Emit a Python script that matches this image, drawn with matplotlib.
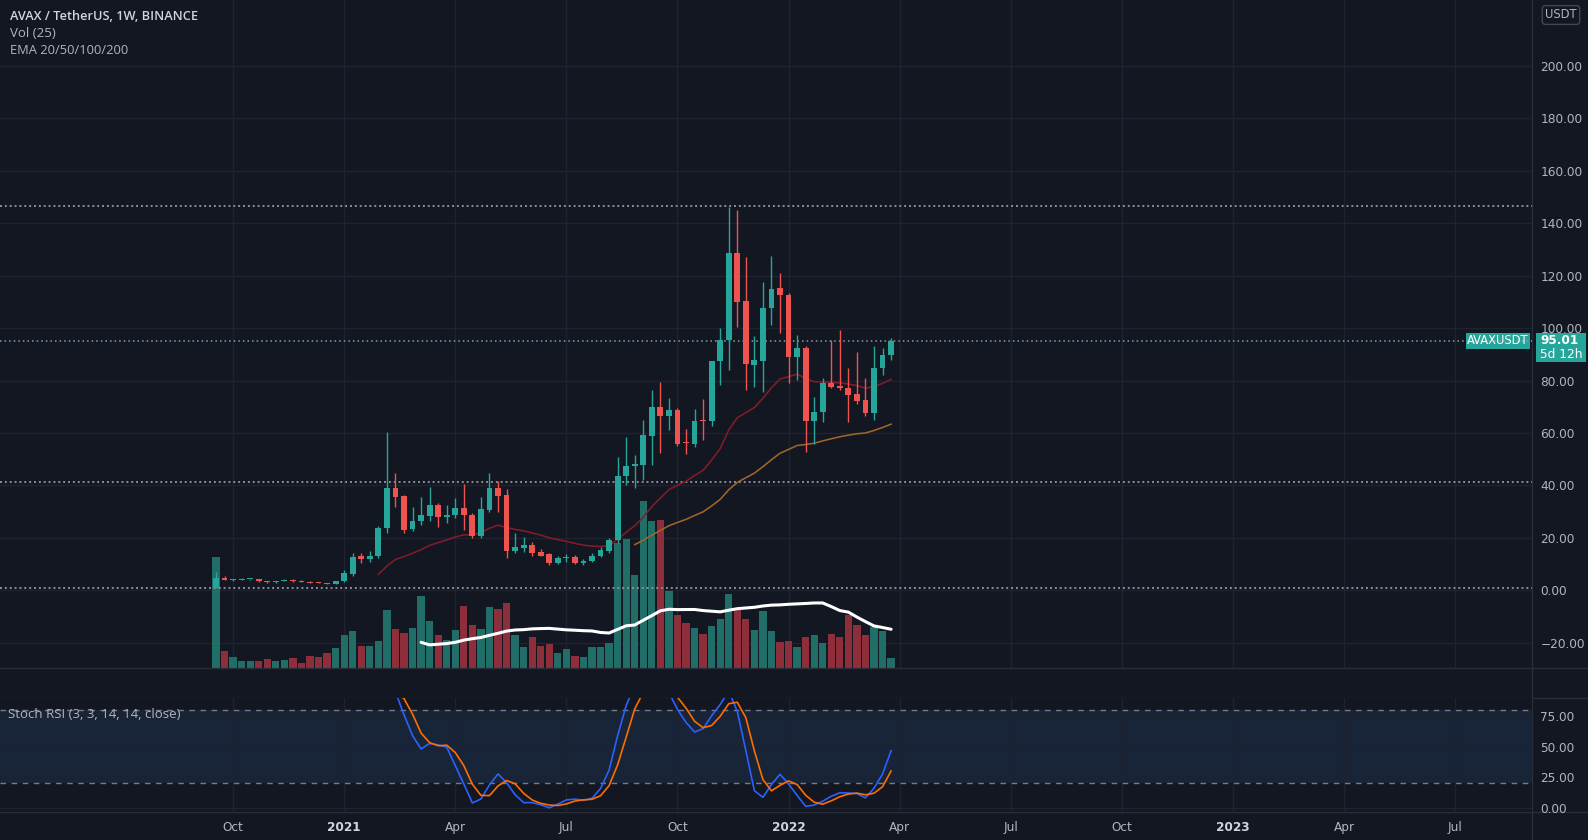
import numpy as np
import pandas as pd
import matplotlib
matplotlib.use("Agg")
import matplotlib.pyplot as plt
from matplotlib.lines import Line2D
from matplotlib.patches import Rectangle

# ── AVAX / USDT weekly candles, first bar = week of 2020-09-21 ──────────
start_week = "2020-09-21"
opens = [0.85, 4.7, 4.0, 4.1, 4.2, 4.3, 3.4, 3.1, 3.5, 4.1,
         3.5, 3.3, 3.0, 2.9, 2.6, 3.4, 6.3, 13.0, 11.8, 13.0,
         23.6, 39.2, 35.9, 23.3, 26.3, 28.5, 32.6, 28.1, 28.7, 31.3,
         28.9, 20.9, 30.7, 38.9, 36.3, 15.1, 16.0, 17.4, 14.8, 13.7,
         10.3, 12.4, 12.6, 10.3, 11.2, 13.1, 14.9, 19.1, 43.6, 47.4,
         47.9, 58.8, 69.8, 66.5, 68.8, 56.6, 55.7, 65.0, 64.6, 87.3,
         95.4, 128.5, 110.3, 86.0, 87.6, 107.5, 115.2, 112.8, 89.1, 92.3,
         64.7, 67.9, 78.9, 77.9, 77.0, 74.7, 72.5, 67.7, 84.6, 89.7]
highs = [7.1, 5.3, 4.5, 4.8, 4.5, 4.4, 3.6, 3.7, 4.3, 4.5,
         3.8, 3.5, 3.2, 3.0, 3.5, 7.6, 14.4, 14.4, 15.2, 24.5,
         60.3, 44.6, 36.5, 31.7, 35.7, 39.5, 33.5, 32.6, 35.2, 40.6,
         29.5, 35.7, 44.6, 41.7, 38.5, 21.8, 20.5, 18.3, 15.8, 14.3,
         13.0, 14.0, 13.3, 11.9, 14.2, 16.7, 20.0, 51.0, 58.6, 51.6,
         64.9, 76.4, 79.6, 73.2, 69.5, 61.5, 69.0, 72.8, 87.6, 99.9,
         146.3, 145.0, 127.2, 96.8, 117.7, 127.5, 121.1, 113.5, 97.4, 93.0,
         73.9, 80.8, 95.4, 99.3, 84.9, 90.8, 80.8, 93.0, 92.6, 96.3]
lows = [0.85, 3.9, 3.7, 3.8, 3.9, 3.2, 3.0, 3.0, 3.4, 3.3,
        3.1, 2.8, 2.7, 2.4, 2.5, 3.1, 5.6, 10.3, 11.0, 12.3,
        22.0, 31.9, 21.8, 22.5, 24.8, 26.5, 24.3, 25.5, 27.5, 22.9,
        19.9, 20.0, 29.8, 30.0, 12.2, 14.3, 14.5, 13.0, 13.0, 9.6,
        9.9, 10.9, 10.2, 9.6, 10.8, 12.6, 14.2, 18.2, 40.1, 38.9,
        42.0, 47.8, 52.2, 61.2, 55.2, 52.0, 54.5, 57.4, 62.5, 78.3,
        84.0, 100.5, 76.4, 77.7, 75.8, 101.2, 98.3, 79.2, 80.2, 52.9,
        55.8, 64.3, 77.0, 76.4, 64.3, 71.0, 66.5, 65.0, 82.1, 88.0]
closes = [4.7, 4.0, 4.1, 4.3, 4.3, 3.4, 3.1, 3.5, 4.1, 3.5,
          3.3, 3.0, 2.9, 2.6, 3.4, 6.5, 12.9, 11.8, 13.2, 23.9,
          39.2, 35.7, 23.0, 26.5, 28.7, 32.6, 28.1, 28.8, 31.3, 28.7,
          20.9, 30.9, 38.9, 36.1, 15.1, 16.7, 17.4, 14.4, 13.2, 10.3,
          12.5, 12.7, 10.4, 11.2, 13.1, 15.3, 19.3, 43.6, 47.4, 48.1,
          59.2, 69.8, 66.5, 68.8, 55.9, 56.0, 64.6, 64.6, 87.3, 95.4,
          128.5, 110.0, 86.4, 87.8, 107.5, 114.8, 112.8, 89.1, 92.3, 64.7,
          67.9, 78.9, 77.7, 77.3, 74.4, 72.3, 67.5, 84.6, 89.7, 95.01]
# weekly volume, millions AVAX
volumes = [11.13, 1.66, 1.13, 0.73, 0.66, 0.73, 0.90, 0.73, 0.83, 0.96,
           0.53, 1.23, 1.06, 1.46, 1.96, 3.33, 3.73, 2.16, 2.23, 2.73,
           5.83, 3.86, 3.46, 3.96, 7.23, 4.73, 3.30, 2.80, 3.80, 6.20,
           4.30, 3.90, 6.06, 5.90, 6.50, 3.30, 2.06, 3.10, 2.16, 2.40,
           1.50, 1.94, 1.17, 1.07, 2.07, 2.07, 2.50, 12.50, 12.94, 9.27,
           16.67, 14.74, 14.84, 7.67, 5.34, 4.50, 4.00, 3.40, 4.24, 4.90,
           7.44, 5.84, 4.90, 3.84, 5.67, 3.67, 2.57, 2.67, 2.07, 3.07,
           3.34, 2.50, 3.40, 3.07, 5.34, 4.34, 3.34, 4.07, 3.67, 1.00]

level_lines = [146.5, 41.3, 0.8]      # drawn horizontal levels
last_price = 95.01
countdown = "5d 12h"
price_ticks = [-20, 0, 20, 40, 60, 80, 100, 120, 140, 160, 180, 200]
stoch_ticks = [0, 25, 50, 75]
month_dates = ["2020-10-05", "2021-01-04", "2021-04-05", "2021-07-05",
               "2021-10-04", "2022-01-03", "2022-04-04", "2022-07-04",
               "2022-10-03", "2023-01-02", "2023-04-03", "2023-07-03"]
month_labels = ["Oct", "2021", "Apr", "Jul", "Oct", "2022",
                "Apr", "Jul", "Oct", "2023", "Apr", "Jul"]

# ── colours ────────────────────────────────────────────────────────────
BG = "#131722"
GRID = "#1f2330"
SEP = "#2a2e39"
TXT = "#b2b5be"
UP, DN = "#26a69a", "#ef5350"
UP_V, DN_V = "#216e69", "#8d2e3a"

# ── indicators (same definitions TradingView uses) ─────────────────────
o = np.array(opens); h = np.array(highs); l = np.array(lows)
c = np.array(closes); v = np.array(volumes)
n = len(c)
x = np.arange(n)


def ema(src, length):
    out = np.full(len(src), np.nan)
    out[length - 1] = src[:length].mean()
    a = 2.0 / (length + 1)
    for i in range(length, len(src)):
        out[i] = a * src[i] + (1 - a) * out[i - 1]
    return out


def rma(src, length):
    out = np.full(len(src), np.nan)
    out[length] = np.mean(src[1:length + 1])
    for i in range(length + 1, len(src)):
        out[i] = (out[i - 1] * (length - 1) + src[i]) / length
    return out


ema20 = ema(c, 20)
ema50 = ema(c, 50)
vol_ma = pd.Series(v).rolling(25).mean().values

chg = np.diff(c, prepend=np.nan)
up = rma(np.where(chg > 0, chg, 0.0), 14)
dn = rma(np.where(chg < 0, -chg, 0.0), 14)
with np.errstate(divide="ignore", invalid="ignore"):
    rsi = np.where(dn == 0, 100.0, 100 - 100 / (1 + up / dn))
rsi[np.isnan(up)] = np.nan
rs = pd.Series(rsi)
lo = rs.rolling(14, min_periods=1).min()
hi = rs.rolling(14, min_periods=1).max()
st = 100 * (rs - lo) / (hi - lo).replace(0, np.nan)
k_line = st.rolling(3).mean()
d_line = k_line.rolling(3).mean()

t0 = pd.Timestamp(start_week)
month_x = [(pd.Timestamp(d) - t0).days / 7 for d in month_dates]

# ── figure layout (pixel based) ────────────────────────────────────────
W, H = 1588, 840
fig = plt.figure(figsize=(W / 100, H / 100), dpi=100)
fig.patch.set_facecolor(BG)


def rect(x0, y0, x1, y1):
    return [x0 / W, 1 - y1 / H, (x1 - x0) / W, (y1 - y0) / H]


PLOT_R = 1532
MAIN = rect(0, 0, PLOT_R, 668)
STOCH = rect(0, 697.7, PLOT_R, 811.7)
XLIM = (-25.28, 154.0)
PLIM = (-29.6, 225.1)

ax_g = fig.add_axes(MAIN, zorder=0)
ax_v = fig.add_axes(MAIN, zorder=1, sharex=ax_g)
ax = fig.add_axes(MAIN, zorder=2, sharex=ax_g)
ax_s = fig.add_axes(STOCH, zorder=2, sharex=ax_g)

for a in (ax_g, ax_v, ax, ax_s):
    for sp in a.spines.values():
        sp.set_visible(False)
ax_g.set_facecolor(BG)
ax_v.patch.set_visible(False)
ax.patch.set_visible(False)
ax_s.set_facecolor(BG)

# grid layer
ax_g.set_xlim(*XLIM)
ax_g.set_ylim(*PLIM)
ax_g.set_yticks(price_ticks)
ax_g.set_xticks(month_x)
ax_g.grid(True, color=GRID, lw=1)
ax_g.tick_params(length=0, labelleft=False, labelbottom=False)

# volume layer
ax_v.bar(x, v, width=0.85, color=[UP_V if cc >= oo else DN_V for oo, cc in zip(o, c)],
         linewidth=0)
ax_v.plot(x, vol_ma, color="white", lw=2.2, solid_capstyle="round")
ax_v.set_ylim(0, 66.8)
ax_v.tick_params(length=0, labelleft=False, labelbottom=False)

# price layer
ax.set_ylim(*PLIM)
for lv in level_lines:
    ax.axhline(lv, color="#8c8f99", lw=1.4, ls=(0, (1, 1.5)), zorder=1)
ax.axhline(last_price, color="#7fa3ad", lw=1.1, ls=(0, (1, 2)), zorder=1)
ax.plot(x, ema20, color="#821c2a", lw=1.15, zorder=2)
ax.plot(x, ema50, color="#a0652a", lw=1.15, zorder=2)

cols = [UP if cc >= oo else DN for oo, cc in zip(o, c)]
ax.vlines(x, l, h, colors=cols, lw=1, zorder=3)
body_lo = np.minimum(o, c)
body_h = np.maximum(np.abs(c - o), 0.35)
ax.bar(x, body_h, bottom=body_lo, width=0.68, color=cols, linewidth=0, zorder=4)

ax.yaxis.tick_right()
ax.set_yticks(price_ticks)
ax.set_yticklabels([f"{t:.2f}".replace("-", "\u2212") for t in price_ticks])
ax.tick_params(axis="y", length=0, pad=6, labelcolor=TXT, labelsize=8.7)
ax.tick_params(axis="x", length=0, labelbottom=False)

# stoch rsi pane
ax_s.set_ylim(-3.2, 90.1)
ax_s.axhspan(20, 80, color="#182437", zorder=0, lw=0)
ax_s.set_yticks(stoch_ticks)
ax_s.set_xticks(month_x)
ax_s.grid(True, color=GRID, lw=1, zorder=0)
ax_s.set_axisbelow(True)
for lv in (80, 20):
    ax_s.axhline(lv, color="#787b86", lw=1, ls=(0, (4, 4)), zorder=1)
ax_s.plot(x, k_line, color="#2962ff", lw=1.2, zorder=3)
ax_s.plot(x, d_line, color="#ff6d00", lw=1.2, zorder=3)
ax_s.yaxis.tick_right()
ax_s.set_yticklabels([f"{t:.2f}" for t in stoch_ticks])
ax_s.tick_params(axis="y", length=0, pad=6, labelcolor=TXT, labelsize=8.7)
ax_s.set_xticklabels(month_labels)
ax_s.tick_params(axis="x", length=0, pad=7, labelcolor=TXT, labelsize=8.7)
for lab in ax_s.get_xticklabels():
    if lab.get_text().isdigit():
        lab.set_fontweight("bold")
        lab.set_color("#d1d4dc")
ax_s.set_xlim(*XLIM)

# pane borders
for y in (668, 697.7, 811.7):
    fig.add_artist(Line2D([0, 1], [1 - y / H] * 2, color=SEP, lw=1))
fig.add_artist(Line2D([PLOT_R / W] * 2, [0, 1], color=SEP, lw=1))

# legends
fig.text(10 / W, 1 - 16 / H, "AVAX / TetherUS, 1W, BINANCE", color="#d1d4dc",
         fontsize=9.2, fontweight="semibold", family="Open Sans", va="center")
fig.text(10 / W, 1 - 33.5 / H, "Vol (25)", color=TXT, fontsize=9.5,
         family="Open Sans", va="center")
fig.text(10 / W, 1 - 50.5 / H, "EMA 20/50/100/200", color=TXT, fontsize=9.3,
         family="Open Sans", va="center")
fig.text(8 / W, 1 - 715 / H, "Stoch RSI (3, 3, 14, 14, close)", color=TXT,
         fontsize=9.5, family="Open Sans", va="center")

# right axis badges
fig.text(1561 / W, 1 - 15 / H, "USDT", color=TXT, fontsize=8.3, ha="center", va="center",
         bbox=dict(boxstyle="round,pad=0.25", fc=BG, ec="#434651", lw=1))
fig.add_artist(Rectangle((1536 / W, 1 - 362 / H), 50 / W, 29 / H,
                         transform=fig.transFigure, color=UP, lw=0))
fig.text(1540 / W, 1 - 340.5 / H, f"{last_price:.2f}", color="white", fontsize=8.7,
         fontweight="bold", va="center")
fig.text(1540 / W, 1 - 354.5 / H, countdown, color="white", fontsize=8.7, va="center")
fig.add_artist(Rectangle((1466 / W, 1 - 349 / H), 64 / W, 16 / H,
                         transform=fig.transFigure, color=UP, lw=0))
fig.text(1498 / W, 1 - 341 / H, "AVAXUSDT", color="white", fontsize=8.3,
         ha="center", va="center")

fig.savefig("out.png", dpi=100, facecolor=BG)
